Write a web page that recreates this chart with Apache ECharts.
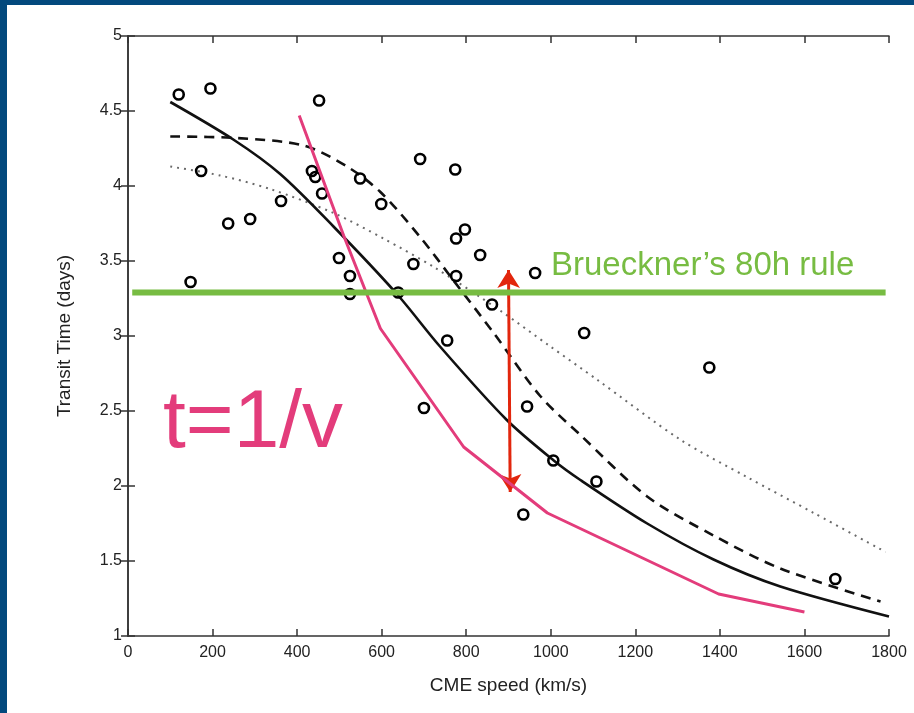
<!DOCTYPE html>
<html>
<head>
<meta charset="utf-8">
<script src="https://cdn.jsdelivr.net/npm/echarts@6/dist/echarts.min.js"></script>
<style>
  html, body { margin: 0; padding: 0; background: #03497d; }
  #chart { width: 914px; height: 713px; }
</style>
</head>
<body>
<div id="chart"></div>
<script>
var chart = echarts.init(document.getElementById('chart'));

// observed CMEs: [speed km/s, transit days]
var events = [
  [120, 4.61], [195, 4.65], [173, 4.10], [148, 3.36], [237, 3.75], [289, 3.78],
  [362, 3.90], [452, 4.57], [435, 4.10], [443, 4.06], [459, 3.95], [499, 3.52],
  [525, 3.40], [525, 3.28], [549, 4.05], [599, 3.88], [639, 3.29], [675, 3.48],
  [691, 4.18], [755, 2.97], [700, 2.52], [774, 4.11], [776, 3.65], [797, 3.71],
  [776, 3.40], [833, 3.54], [861, 3.21], [963, 3.42], [944, 2.53], [1006, 2.17],
  [1108, 2.03], [935, 1.81], [1079, 3.02], [1375, 2.79], [1673, 1.38]
];

// model curves
var solidFit = [
  [100, 4.56], [249, 4.31], [360, 4.08], [486, 3.73], [636, 3.28], [738, 2.93],
  [896, 2.44], [1007, 2.17], [1070, 2.04], [1228, 1.75], [1385, 1.51], [1543, 1.33], [1800, 1.13]
];
var dashedFit = [
  [100, 4.33], [257, 4.32], [415, 4.27], [518, 4.13], [597, 3.96], [691, 3.66],
  [770, 3.37], [865, 3.02], [975, 2.60], [1070, 2.34], [1228, 1.93], [1385, 1.67],
  [1543, 1.45], [1780, 1.23]
];
var dottedFit = [
  [100, 4.13], [218, 4.07], [336, 3.98], [486, 3.82], [604, 3.65], [723, 3.46],
  [880, 3.17], [999, 2.93], [1109, 2.71], [1306, 2.31], [1464, 2.06], [1622, 1.82], [1792, 1.56]
];
var inverseV = [
  [405, 4.47], [510, 3.67], [597, 3.05], [794, 2.26], [992, 1.82], [1397, 1.28], [1600, 1.16]
];
var brueckner = [[10, 3.29], [1792, 3.29]];
var arrowEnds = [[900, 3.44], [904, 1.96]];

var textColor = '#222';
var axisColor = '#333';

function boxAxis(extra) {
  return Object.assign({
    axisLine: { show: true, lineStyle: { color: axisColor, width: 1.5 } },
    axisTick: { show: true, inside: true, length: 7, lineStyle: { color: axisColor, width: 1.5 } },
    splitLine: { show: false }
  }, extra);
}

var option = {
  backgroundColor: '#03497d',
  animation: false,
  graphic: [
    { type: 'rect', left: 7, top: 5, z: -10, shape: { width: 907, height: 708 }, style: { fill: '#ffffff' } },
    {
      type: 'text', left: 163, top: 383, z: 100,
      style: {
        text: 't=1/v', fill: '#e33c7b',
        font: '82px "Liberation Sans", Arial, sans-serif',
        shadowColor: 'rgba(0,0,0,0.4)', shadowBlur: 8, shadowOffsetX: 6, shadowOffsetY: 8
      }
    },
    {
      type: 'text', left: 551, top: 249, z: 100,
      style: {
        text: 'Brueckner’s 80h rule', fill: '#77bc42',
        font: '33px "Liberation Sans", Arial, sans-serif'
      }
    }
  ],
  grid: { left: 128, top: 36, width: 761, height: 600 },
  xAxis: [
    boxAxis({
      type: 'value', min: 0, max: 1800, interval: 200,
      name: 'CME speed (km/s)', nameLocation: 'middle', nameGap: 40,
      nameTextStyle: { fontSize: 19, color: textColor, fontFamily: 'Liberation Sans' },
      axisLabel: { fontSize: 16, color: textColor, margin: 9, fontFamily: 'Liberation Sans',
        formatter: function (v) { return String(v); } }
    }),
    boxAxis({
      type: 'value', min: 0, max: 1800, interval: 200, position: 'top',
      axisLabel: { show: false }
    })
  ],
  yAxis: [
    boxAxis({
      type: 'value', min: 1, max: 5, interval: 0.5,
      name: 'Transit Time (days)', nameLocation: 'middle', nameGap: 54, nameRotate: 90,
      nameTextStyle: { fontSize: 19, color: textColor, fontFamily: 'Liberation Sans' },
      axisLabel: { fontSize: 16, color: textColor, margin: 6, fontFamily: 'Liberation Sans' }
    }),
    boxAxis({
      type: 'value', min: 1, max: 5, interval: 0.5, position: 'right',
      axisLabel: { show: false }
    })
  ],
  series: [
    {
      type: 'line', data: dottedFit, smooth: 0.3, symbol: 'none', z: 3,
      lineStyle: { color: '#6a6a6a', width: 2, type: [2, 5] }
    },
    {
      type: 'line', data: dashedFit, smooth: 0.3, symbol: 'none', z: 3,
      lineStyle: { color: '#111', width: 2.6, type: [10, 7] }
    },
    {
      type: 'line', data: solidFit, smooth: 0.3, symbol: 'none', z: 3,
      lineStyle: { color: '#111', width: 2.6 }
    },
    {
      type: 'scatter', data: events, symbol: 'circle', symbolSize: 10, z: 4,
      itemStyle: { color: 'rgba(255,255,255,0)', borderColor: '#000', borderWidth: 2.6, opacity: 1 }
    },
    {
      type: 'line', data: inverseV, symbol: 'none', z: 5,
      lineStyle: { color: '#e33c7b', width: 3 }
    },
    {
      type: 'line', data: brueckner, symbol: 'none', z: 6,
      lineStyle: { color: '#77bc42', width: 6 }
    },
    {
      type: 'line', data: [], symbol: 'none', z: 7,
      markLine: {
        silent: true, animation: false,
        symbol: ['arrow', 'arrow'], symbolSize: [17, 18],
        label: { show: false },
        lineStyle: { color: '#e2260d', width: 3, type: 'solid' },
        data: [[{ coord: arrowEnds[0] }, { coord: arrowEnds[1] }]]
      }
    }
  ]
};

chart.setOption(option);
</script>
</body>
</html>
